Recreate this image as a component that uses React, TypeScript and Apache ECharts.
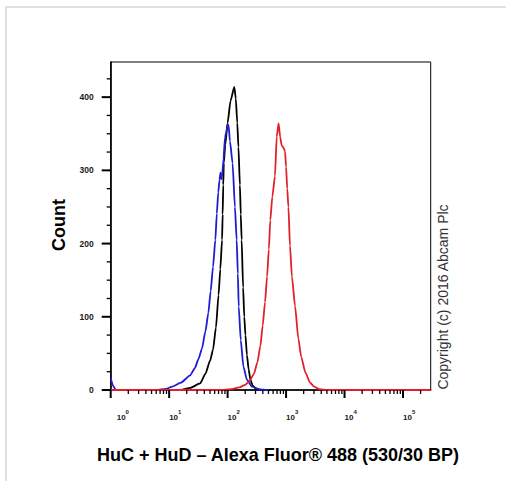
import React, { useEffect, useRef } from 'react';
import * as echarts from 'echarts';

// X: log10 of fluorescence intensity (axis labelled 10^n), Y: event count
const xDecades = [0, 1, 2, 3, 4, 5];
const yTicks = [0, 100, 200, 300, 400];
const yMinorTicks = [25, 50, 75, 125, 150, 175, 225, 250, 275, 325, 350, 375, 425];
const minorFactors = [2, 3, 4, 5, 6, 7, 8, 9];

const blackCurve: [number, number][] = [
  [0, 0], [1.2, 0], [1.36, 3], [1.53, 9], [1.62, 22], [1.7, 40], [1.75, 55], [1.8, 85],
  [1.845, 130], [1.875, 165], [1.905, 205], [1.915, 240], [1.925, 280], [1.935, 310],
  [1.96, 335], [2.0, 365], [2.05, 395], [2.114, 414], [2.14, 398], [2.165, 365],
  [2.185, 332], [2.21, 280], [2.225, 240], [2.24, 205], [2.265, 140], [2.285, 100],
  [2.305, 75], [2.33, 48], [2.36, 28], [2.39, 14], [2.43, 6], [2.48, 2], [2.56, 0.5], [2.72, 0],
];

const blueCurve: [number, number][] = [
  [0, 16], [0.045, 5], [0.09, 0], [0.78, 0], [0.95, 1.5], [1.05, 4.5], [1.2, 10], [1.36, 20],
  [1.44, 30], [1.5, 42], [1.56, 56], [1.62, 80], [1.67, 105], [1.71, 135], [1.75, 168],
  [1.79, 205], [1.815, 241], [1.84, 270], [1.862, 287], [1.878, 297], [1.89, 288], [1.905, 292],
  [1.93, 315], [1.955, 345], [1.975, 351], [2.0, 362], [2.015, 362], [2.04, 340], [2.085, 310],
  [2.125, 250], [2.155, 205], [2.175, 159], [2.19, 114], [2.225, 68], [2.27, 32], [2.33, 14],
  [2.42, 4.5], [2.55, 0.5], [2.7, 0],
];

const redCurve: [number, number][] = [
  [0, 0], [1.9, 0], [2.05, 1], [2.2, 3.5], [2.3, 7], [2.38, 13], [2.45, 22], [2.51, 38],
  [2.56, 60], [2.6, 88], [2.64, 120], [2.675, 155], [2.705, 192], [2.73, 232], [2.765, 264],
  [2.81, 292], [2.84, 346], [2.872, 364], [2.9, 345], [2.925, 334], [2.955, 331], [2.982, 326],
  [3.0, 305], [3.02, 275], [3.04, 250], [3.067, 197], [3.1, 155], [3.153, 115], [3.21, 70],
  [3.26, 45], [3.33, 24], [3.41, 10], [3.48, 4.5], [3.57, 1], [3.7, 0], [5.474, 0],
];

const xTitle = 'HuC + HuD \u2013 Alexa Fluor\u00ae 488 (530/30 BP)';
const yTitle = 'Count';
const copyright = 'Copyright (c) 2016 Abcam Plc';

const FONT = "'Liberation Sans', Arial, Helvetica, sans-serif";
const X_MIN = 0;
const X_MAX = 5.474;
const Y_MAX = 448;

const xMinorTicks: number[] = [];
xDecades.forEach((d) => {
  minorFactors.forEach((k) => {
    const v = d + Math.log10(k);
    if (v <= X_MAX) xMinorTicks.push(v);
  });
});

export default function App() {
  const ref = useRef<HTMLDivElement>(null);
  useEffect(() => {
    if (!ref.current) return;
    const chart = echarts.init(ref.current, null, { renderer: 'svg' });
    const lineSeries = (name: string, data: [number, number][], color: string) => ({
      name,
      type: 'line',
      data,
      showSymbol: false,
      symbol: 'none',
      smooth: 0.2,
      smoothMonotone: 'x',
      lineStyle: { color, width: 1.8 },
      itemStyle: { color },
      z: 3,
    });
    // Tick marks drawn through the axes' own scales (api.coord)
    const tickSeries = (values: number[], isX: boolean, len: number, width: number) => ({
      type: 'custom',
      silent: true,
      clip: false,
      z: 4,
      data: values.map((v) => (isX ? [v, 0] : [X_MIN, v])),
      renderItem: (_params: any, api: any) => {
        const p = api.coord([api.value(0), api.value(1)]);
        return {
          type: 'line',
          shape: isX
            ? { x1: p[0], y1: p[1], x2: p[0], y2: p[1] + len }
            : { x1: p[0] - len, y1: p[1], x2: p[0], y2: p[1] },
          style: { stroke: '#000', lineWidth: width },
        };
      },
    });
    chart.setOption({
      animation: false,
      backgroundColor: '#ffffff',
      grid: {
        left: 110.7, top: 62, width: 320, height: 328,
        show: true, borderColor: '#000', borderWidth: 1, backgroundColor: 'transparent',
      },
      xAxis: {
        type: 'value', min: X_MIN, max: X_MAX, interval: 1, position: 'bottom',
        axisLine: { show: true, onZero: false, lineStyle: { color: '#000', width: 1.6 } },
        axisTick: { show: false },
        axisLabel: {
          show: true,
          customValues: xDecades,
          margin: 19,
          align: 'left',
          formatter: (v: number) => (v === 0 ? `{bp|10}{s|${v}}` : `{b|10}{s|${v}}`),
          rich: {
            b: { fontSize: 8, fontWeight: 'bold', fontFamily: FONT, color: '#1a1a1a', lineHeight: 16, verticalAlign: 'middle' },
            bp: { fontSize: 8, fontWeight: 'bold', fontFamily: FONT, color: '#1a1a1a', lineHeight: 16, verticalAlign: 'middle', padding: [0, 0, 0, 6] },
            s: { fontSize: 6, fontWeight: 'bold', fontFamily: FONT, color: '#1a1a1a', lineHeight: 4, verticalAlign: 'top' },
          },
        },
        splitLine: { show: false },
      },
      yAxis: {
        type: 'value', min: 0, max: Y_MAX, position: 'left',
        axisLine: { show: true, onZero: false, lineStyle: { color: '#000', width: 1.6 } },
        axisTick: { show: false },
        axisLabel: {
          show: true, customValues: yTicks, margin: 17,
          fontSize: 8.5, fontWeight: 'bold', fontFamily: FONT, color: '#1a1a1a',
        },
        splitLine: { show: false },
      },
      series: [
        tickSeries(xDecades, true, 8, 2),
        tickSeries(xMinorTicks, true, 4, 1.3),
        tickSeries(yTicks, false, 9, 2),
        tickSeries(yMinorTicks, false, 4, 1.3),
        lineSeries('Black', blackCurve, '#000000'),
        lineSeries('Blue', blueCurve, '#1c1cd0'),
        lineSeries('Red', redCurve, '#e3202a'),
      ],
      graphic: [
        { type: 'line', shape: { x1: 5, y1: 7, x2: 506, y2: 7 }, style: { stroke: '#e0e0e0', lineWidth: 2 } },
        { type: 'line', shape: { x1: 6, y1: 6, x2: 6, y2: 481 }, style: { stroke: '#e0e0e0', lineWidth: 2 } },
        {
          type: 'text', x: 59, y: 225, rotation: Math.PI / 2,
          style: { text: yTitle, font: `bold 18px ${FONT}`, fill: '#000', align: 'center', verticalAlign: 'middle' },
        },
        {
          type: 'text', x: 278, y: 455,
          style: { text: xTitle, font: `bold 18px ${FONT}`, fill: '#000', align: 'center', verticalAlign: 'middle' },
        },
        {
          type: 'text', x: 443, y: 297, rotation: Math.PI / 2,
          style: { text: copyright, font: `14px ${FONT}`, fill: '#333', align: 'center', verticalAlign: 'middle' },
        },
      ],
    });
    return () => chart.dispose();
  }, []);
  return (
    <div
      ref={ref}
      style={{ position: 'fixed', left: 0, top: 0, width: 506, height: 481, background: '#fff' }}
    />
  );
}
